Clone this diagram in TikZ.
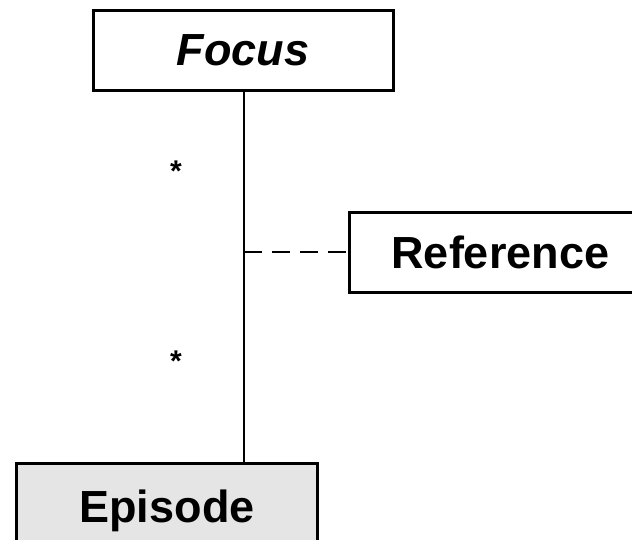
\documentclass[tikz,border=0pt]{standalone}
\usepackage{fontspec}
\setmainfont{Liberation Sans}
\begin{document}
\begin{tikzpicture}[x=1pt,y=-1pt,
  boxstyle/.style={draw=black,line width=3pt,minimum height=80pt,inner sep=0pt,font=\fontsize{45}{50}\selectfont\bfseries},
  conn/.style={line width=2pt},
  mult/.style={font=\fontsize{30}{34}\selectfont\bfseries}]
\useasboundingbox (0,0) rectangle (632,539);
\clip (0,0) rectangle (632,539);
\node[boxstyle,minimum width=300pt,fill=white] (focus) at (243,50) {\itshape Focus};
\node[boxstyle,minimum width=300pt,fill=white,anchor=west] (ref) at (348,252) {\hspace*{42pt}Reference\hspace*{58pt}};
\node[boxstyle,minimum width=301pt,minimum height=100pt,fill=black!10,anchor=north west] (epi) at (15,462) {\raisebox{14pt}{Episode}};
\coordinate (j) at (244,252);
\draw[conn] (focus.south -| j) -- (epi.north -| j);
\draw[conn,dash pattern=on 18pt off 10pt] (j) -- (ref.west);
\node[mult] (s1) at (176,171) {*};
\node[mult] (s2) at (176,361) {*};
\end{tikzpicture}
\end{document}
